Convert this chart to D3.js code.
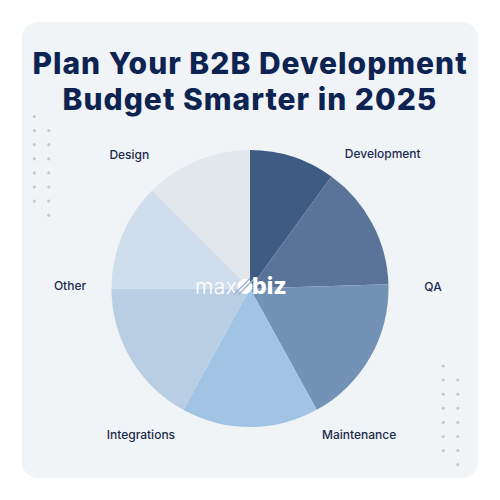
<!DOCTYPE html>
<html><head><meta charset="utf-8">
<script src="https://cdn.jsdelivr.net/npm/d3@7"></script>
<style>html,body{margin:0;padding:0;background:#fff;}svg{display:block;}</style>
</head><body>
<svg id="chart" width="500" height="500"></svg>
<script>
// ---- data ----
const titleLines = ["Plan Your B2B Development", "Budget Smarter in 2025"];
const sliceValues = [10, 14.5, 17.5, 16, 17, 12.5, 12.5];
const sliceColors = ["#3e5b82", "#5a7499", "#7393b6", "#a1c3e4", "#b9cee3", "#cfdeec", "#e3e8ed"];
const labels = ["Development", "QA", "Maintenance", "Integrations", "Other", "Design"];

// ---- layout (polar placement of labels around the pie) ----
const labelAngles = [44.6, 89.5, 143.4, 216.6, 270.8, 317.9];
const labelRadii = [189, 183, 183, 183, 180, 180];

const svg = d3.select("#chart");
// card
svg.append("rect").attr("x", 22).attr("y", 22).attr("width", 456).attr("height", 456)
  .attr("rx", 16).attr("fill", "#f1f4f7");

// dots
function dots(x0, y0) {
  const pts = [[0, 0]];
  for (let r = 1; r <= 6; r++) { pts.push([0, r]); pts.push([1, r]); }
  pts.push([1, 7]);
  svg.append("g").selectAll("circle").data(pts).join("circle")
    .attr("cx", d => x0 + d[0] * 14.5).attr("cy", d => y0 + d[1] * 14.1)
    .attr("r", 1.6).attr("fill", "#c6cad0");
}
dots(34.3, 116.5);
dots(443.3, 366);

// title
svg.append("g").selectAll("text").data(titleLines).join("text")
  .attr("x", 250).attr("y", (d, i) => 74 + i * 36)
  .attr("text-anchor", "middle")
  .style("font-family", "Inter, sans-serif").style("font-weight", 800)
  .style("font-size", "30px").style("letter-spacing", "1px").attr("fill", "#0d2352")
  .text(d => d);

// pie
const cx = 250, cy = 288.5, R = 138.5;
const pie = d3.pie().sort(null).value(d => d);
const arc = d3.arc().innerRadius(0).outerRadius(R);
const g = svg.append("g").attr("transform", `translate(${cx},${cy})`);
g.selectAll("path").data(pie(sliceValues)).join("path")
  .attr("d", arc).attr("fill", (d, i) => sliceColors[i]);

// labels
svg.append("g").selectAll("text").data(labels).join("text")
  .attr("x", (d, i) => cx + labelRadii[i] * Math.sin(labelAngles[i] * Math.PI / 180))
  .attr("y", (d, i) => cy - labelRadii[i] * Math.cos(labelAngles[i] * Math.PI / 180) + 4)
  .attr("text-anchor", "middle")
  .style("font-family", "Inter, sans-serif").style("font-weight", 500)
  .style("font-size", "12px").attr("fill", "#1b2b4d")
  .text(d => d);

// logo
const logo = svg.append("g").attr("transform", "translate(195,294)");
logo.append("text").attr("x", 0).attr("y", 0)
  .style("font-family", "Inter, sans-serif").style("font-weight", 300)
  .style("font-size", "21px").style("letter-spacing", "0.5px").attr("fill", "#fff").text("max");
const ic = logo.append("g").attr("transform", "translate(50,-7.5)");
ic.append("circle").attr("r", 7.5).attr("fill", "#fff");
[-3, 1.5].forEach(o => ic.append("line").attr("x1", -8 + o).attr("y1", 8).attr("x2", 8 + o).attr("y2", -8)
  .attr("stroke", "#9cb2cc").attr("stroke-width", 1.4));
logo.append("text").attr("x", 57).attr("y", 0)
  .style("font-family", "Inter, sans-serif").style("font-weight", 800)
  .style("font-size", "23px").attr("fill", "#fff").text("biz");
</script>
</body></html>
